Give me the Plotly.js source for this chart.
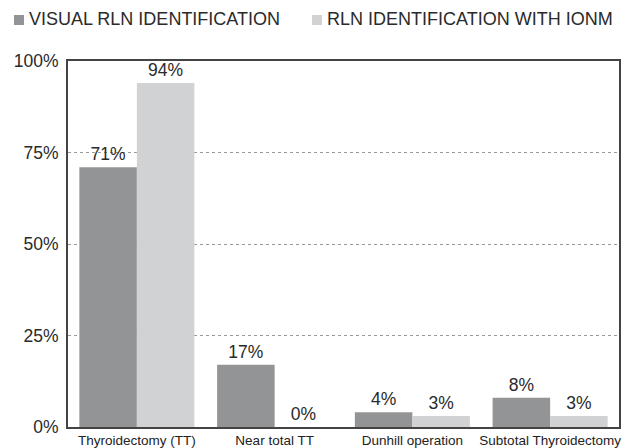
<!DOCTYPE html>
<html><head><meta charset="utf-8">
<script src="https://cdn.plot.ly/plotly-3.0.1.min.js"></script>
<style>html,body{margin:0;padding:0;background:#fff}</style>
</head><body>
<div id="chart" style="width:630px;height:448px"></div>
<script>
var categories = ["Thyroidectomy (TT)", "Near total TT", "Dunhill operation", "Subtotal Thyroidectomy"];
var seriesNames = ["VISUAL RLN IDENTIFICATION", "RLN IDENTIFICATION WITH IONM"];
var visualValues = [71, 17, 4, 8];
var ionmValues = [94, 0, 3, 3];
var yTickValues = [0, 25, 50, 75, 100];
var yTickLabels = ["0%", "25%", "50%", "75%", "100%"];
var colors = ["#939496", "#d1d2d4"];

function pct(arr){ return arr.map(function(v){ return v + "%"; }); }

var FONT = "'Liberation Sans', Arial, sans-serif";

var traces = [
  {type:"bar", name:seriesNames[0], x:categories, y:visualValues, text:pct(visualValues),
   textposition:"outside", cliponaxis:false, marker:{color:colors[0]},
   textfont:{family:FONT, size:17.5, color:"#2a2a2a"}, hoverinfo:"none"},
  {type:"bar", name:seriesNames[1], x:categories, y:ionmValues, text:pct(ionmValues),
   textposition:"outside", cliponaxis:false, marker:{color:colors[1]},
   textfont:{family:FONT, size:17.5, color:"#2a2a2a"}, hoverinfo:"none"}
];

var W = 630, H = 448;
var mL = 68, mR = 11, mT = 61, mB = 21;
function px(x){ return (x - mL) / (W - mL - mR); }
function py(y){ return (H - mB - y) / (H - mT - mB); }

var layout = {
  width: W, height: H,
  margin: {l: mL, r: mR, t: mT, b: mB, pad: 0},
  paper_bgcolor: "#fff", plot_bgcolor: "#fff",
  font: {family: FONT, color: "#2a2a2a"},
  showlegend: false,
  barmode: "group", bargap: 0.165, bargroupgap: 0,
  xaxis: {
    type: "category", showgrid: false, zeroline: false,
    showline: true, linecolor: "#444", linewidth: 2, mirror: true,
    ticks: "", tickfont: {size: 13.5, color: "#222"}
  },
  yaxis: {
    range: [0, 100], tickvals: yTickValues, ticktext: yTickLabels,
    showgrid: true, gridcolor: "#999", griddash: "dot", gridwidth: 1,
    zeroline: false, showline: true, linecolor: "#444", linewidth: 2, mirror: true,
    ticks: "", tickfont: {size: 17.5, color: "#2a2a2a"}, ticklabelstandoff: 4
  },
  shapes: [
    {type:"rect", xref:"paper", yref:"paper", x0:px(14), x1:px(24), y0:py(25), y1:py(15),
     fillcolor:colors[0], line:{width:0}},
    {type:"rect", xref:"paper", yref:"paper", x0:px(312), x1:px(322), y0:py(25), y1:py(15),
     fillcolor:colors[1], line:{width:0}}
  ],
  annotations: [
    {xref:"paper", yref:"paper", x:px(27), y:py(19.5), xanchor:"left", yanchor:"middle",
     text:seriesNames[0], showarrow:false, font:{size:18, color:"#2a2a2a"}},
    {xref:"paper", yref:"paper", x:px(325), y:py(19.5), xanchor:"left", yanchor:"middle",
     text:seriesNames[1], showarrow:false, font:{size:18, color:"#2a2a2a"}}
  ]
};

Plotly.newPlot("chart", traces, layout, {displayModeBar: false, staticPlot: true});
</script>
</body></html>
